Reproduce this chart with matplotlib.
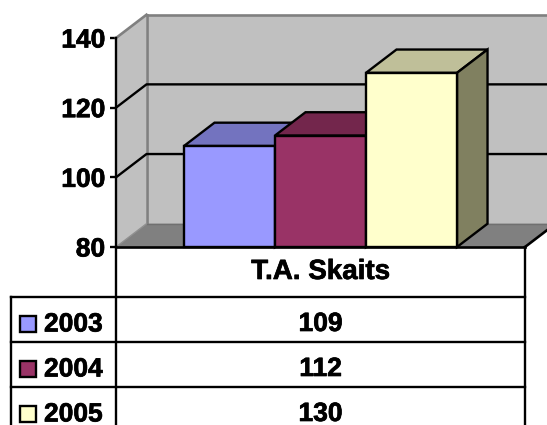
import matplotlib
matplotlib.use('Agg')
import matplotlib.pyplot as plt
import matplotlib.patheffects as pe
from matplotlib.patches import Polygon, Rectangle

plt.rcParams['font.family'] = ['Liberation Sans', 'DejaVu Sans']
plt.rcParams['font.weight'] = 'bold'

years = ['2003', '2004', '2005']
values = [109, 112, 130]
category = 'T.A. Skaits'
y_ticks = [80, 100, 120, 140]
front_colors = ['#9999FF', '#993366', '#FFFFCC']
top_colors = ['#7373BF', '#73264C', '#BFBF99']
side_colors = ['#4D4D80', '#4D1A33', '#808060']

W, H = 547, 425
LW = 1.7  # a little over 2 px at this dpi
heavy = [pe.withStroke(linewidth=0.5, foreground='black')]

fig = plt.figure(figsize=(W / 100, H / 100), dpi=100)

# front plane of the 3D box, in pixels: x 116..525, y 38..247
ax = fig.add_axes([116 / W, 1 - 247 / H, (525 - 116) / W, (247 - 38) / H])
ax.patch.set_visible(False)
x_min, x_max = -1.247, 3.247
y_min, y_max = 80, 140
ax.set_xlim(x_min, x_max)
ax.set_ylim(y_min, y_max)

# depth of the box in data units
dx = 30.5 / 91
dy = 23.3 / (209 / 60)
x_end = x_max + 1


def poly(pts, fc, ec='none', lw=0, z=1):
    ax.add_patch(Polygon(pts, closed=True, fc=fc, ec=ec, lw=lw, zorder=z,
                         clip_on=False, joinstyle='miter'))


def line(xs, ys, color='black', lw=LW, z=2):
    ax.plot(xs, ys, color=color, lw=lw, zorder=z, clip_on=False,
            solid_capstyle='projecting')


# walls and floor
poly([(x_min, y_min), (x_min + dx, y_min + dy), (x_min + dx, y_max + dy), (x_min, y_max)], '#C0C0C0')
poly([(x_min + dx, y_min + dy), (x_end, y_min + dy), (x_end, y_max + dy), (x_min + dx, y_max + dy)], '#C0C0C0')
poly([(x_min, y_min), (x_max, y_min), (x_max + dx, y_min + dy), (x_min + dx, y_min + dy)], '#808080')

# wall edges
line([x_min + dx, x_end], [y_max + dy] * 2, '#808080', lw=1.9)
line([x_min + dx, x_min + dx], [y_min + dy, y_max + dy], '#808080', lw=1.9)
line([x_min, x_min + dx], [y_max, y_max + dy], '#808080', lw=1.9)
line([x_min + dx, x_end], [y_min + dy] * 2, '#707070', lw=1.0)
line([x_min, x_min + dx], [y_min, y_min + dy], '#909090', lw=1.0)

# gridlines run across the side wall and along the back
for t in y_ticks[1:-1]:
    line([x_min, x_min + dx, x_end], [t, t + dy, t + dy])

# bars, painted left to right so each one covers its neighbour's depth
for i, v in enumerate(values):
    x0, x1 = i - 0.5, i + 0.5
    poly([(x0, v), (x1, v), (x1 + dx, v + dy), (x0 + dx, v + dy)], top_colors[i], 'black', LW, 3 + i)
    poly([(x1, y_min), (x1 + dx, y_min + dy), (x1 + dx, v + dy), (x1, v)], side_colors[i], 'black', LW, 3 + i)
    poly([(x0, y_min), (x1, y_min), (x1, v), (x0, v)], front_colors[i], 'black', LW, 3 + i)

line([x_max, x_max + dx], [y_min, y_min + dy], lw=1.9, z=8)

ax.set_xticks([])
ax.set_yticks(y_ticks)
ax.tick_params(axis='y', length=4.3, width=LW, pad=3.5, labelsize=19)
for label in ax.get_yticklabels():
    label.set_path_effects(heavy)
for s in ['top', 'right']:
    ax.spines[s].set_visible(False)
ax.spines['left'].set_linewidth(LW)
ax.spines['left'].set_zorder(9)
ax.spines['bottom'].set_linewidth(1.9)
ax.spines['bottom'].set_zorder(9)

# data table under the plot, laid out in pixels
tb = fig.add_axes([0, 0, 1, 1])
tb.set_xlim(0, W)
tb.set_ylim(H, 0)
tb.axis('off')
tb.patch.set_visible(False)

left, mid, right = 11, 116, 525
rows = [297, 342, 387, 432]

tb.plot([mid, mid], [247, H + 5], color='black', lw=LW)
tb.plot([right, right], [247, H + 5], color='black', lw=LW)
tb.plot([left, left], [rows[0], H + 5], color='black', lw=LW)
for r in rows[:3]:
    tb.plot([left, right], [r, r], color='black', lw=LW)

cx = (mid + right) / 2
tb.text(cx, 272, category, ha='center', va='center', fontsize=20, path_effects=heavy)
for i, (yr, v) in enumerate(zip(years, values)):
    yc = (rows[i] + rows[i + 1]) / 2
    tb.text(cx, yc + 4.5, str(v), ha='center', va='center', fontsize=19, path_effects=heavy)
    tb.text(44, yc + 5, yr, ha='left', va='center', fontsize=19, path_effects=heavy)
    tb.add_patch(Rectangle((20, yc - 3.5), 16, 16, fc=front_colors[i], ec='black', lw=LW))

fig.savefig('out.png', dpi=100, facecolor='white')
